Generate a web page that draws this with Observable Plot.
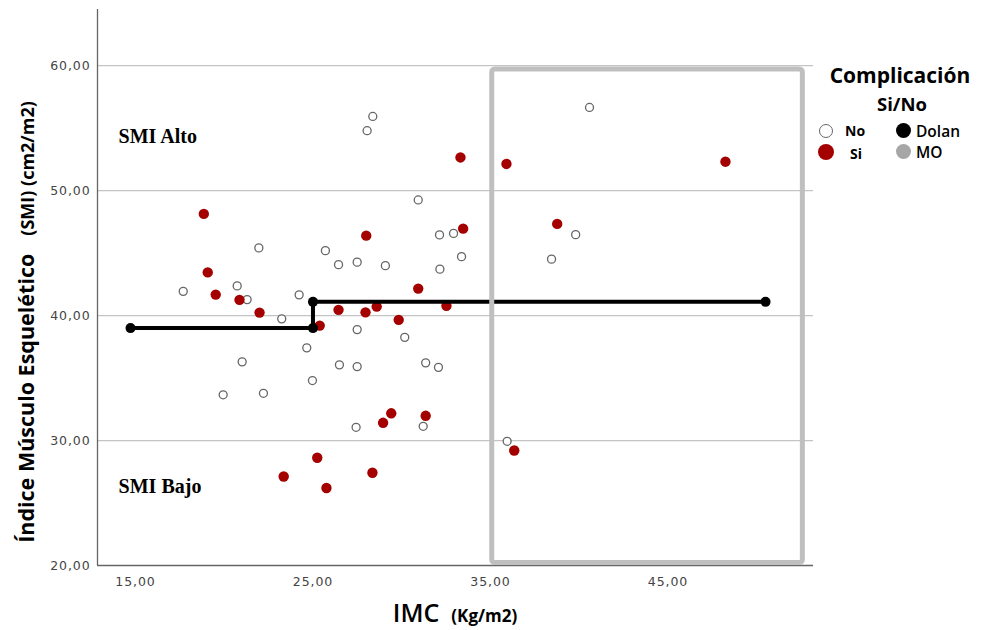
<!DOCTYPE html>
<html><head><meta charset="utf-8">
<script src="https://cdn.jsdelivr.net/npm/d3@7"></script>
<script src="https://cdn.jsdelivr.net/npm/@observablehq/plot@0.6"></script>
<style>
body{margin:0;background:#fff;}
#wrap{position:relative;width:986px;height:630px;font-family:"Open Sans",sans-serif;color:#000;}
#wrap svg{position:absolute;left:0;top:0;}
#wrap svg g[aria-label$="tick label"] text{letter-spacing:0.9px;}
.ylab{position:absolute;left:25px;top:322px;transform:translate(-50%,-50%) rotate(-90deg);white-space:nowrap;font-weight:bold;}
.xlab{position:absolute;left:455px;top:612px;transform:translate(-50%,-50%);white-space:nowrap;}
.leg{position:absolute;font-family:"Open Sans",sans-serif;font-weight:bold;white-space:nowrap;}
.sw{position:absolute;border-radius:50%;box-sizing:border-box;}
</style></head><body><div id="wrap"></div>
<script>
// Data
const noX = [28.37,28.05,40.58,30.93,21.95,25.70,26.44,27.49,29.08,32.13,32.92,33.37,32.15,39.80,38.44,17.69,20.73,21.29,24.22,23.24,27.49,30.17,24.65,21.01,26.49,27.49,31.35,32.07,24.97,19.94,22.21,27.43,31.21,35.94];
const noY = [55.94,54.80,56.66,49.26,45.42,45.20,44.08,44.28,44.00,46.46,46.58,44.72,43.72,46.48,44.52,41.94,42.38,41.28,41.66,39.74,38.88,38.26,37.42,36.30,36.06,35.92,36.22,35.86,34.80,33.66,33.78,31.06,31.14,29.94];
const siX = [33.31,35.90,48.24,18.85,28.00,33.46,38.76,19.07,19.52,20.86,21.99,30.93,26.44,27.96,28.59,32.52,29.83,25.38,29.41,31.35,28.95,36.34,25.24,23.35,28.35,25.76];
const siY = [52.66,52.14,52.32,48.14,46.40,46.96,47.34,43.46,41.68,41.26,40.24,42.16,40.46,40.26,40.72,40.78,39.66,39.20,32.18,31.98,31.42,29.20,28.62,27.12,27.42,26.20];
const dolanX = [14.72, 25, 25, 50.5];
const dolanY = [39, 39, 41.1, 41.1];
const moBoxX = [35.1, 52.6];
const moBoxY = [20.2, 59.7];
const xTicks = [15, 25, 35, 45];
const yTicks = [20, 30, 40, 50, 60];
const gridY = [30, 40, 50, 60];
const regionLabels = ["SMI Alto", "SMI Bajo"];
const regionX = [14.05, 14.05];
const regionY = [54.3, 26.3];
const xDomain = [12.86, 53.2];
const yDomain = [20, 64.5];

const noData = noX.map((x, i) => ({x, y: noY[i]}));
const siData = siX.map((x, i) => ({x, y: siY[i]}));
const dolan = dolanX.map((x, i) => ({x, y: dolanY[i]}));
const box = [{x1: moBoxX[0], x2: moBoxX[1], y1: moBoxY[0], y2: moBoxY[1]}];
const regions = regionLabels.map((t, i) => ({t, x: regionX[i], y: regionY[i]}));
const fmt = d => d.toFixed(2).replace(".", ",");

const chart = Plot.plot({
  width: 986, height: 630,
  marginLeft: 97, marginRight: 173, marginTop: 9, marginBottom: 65,
  x: {domain: xDomain},
  y: {domain: yDomain},
  style: {background: "transparent", fontFamily: "DejaVu Sans, sans-serif"},
  marks: [
    Plot.ruleY(gridY, {stroke: "#c4c4c4", strokeWidth: 1.2}),
    Plot.ruleX([xDomain[0]], {stroke: "#666", strokeWidth: 1.3}),
    Plot.ruleY([yDomain[0]], {stroke: "#666", strokeWidth: 1.3}),
    Plot.axisX(xTicks, {tickSize: 0, tickPadding: 12, tickFormat: fmt, fontSize: 12.5, color: "#444", label: null}),
    Plot.axisY(yTicks, {tickSize: 0, tickPadding: 7, tickFormat: fmt, fontSize: 12.5, color: "#444", label: null}),
    Plot.text(regions, {x: "x", y: "y", text: "t", textAnchor: "start", fontFamily: "Liberation Serif, Times New Roman, serif", fontWeight: "bold", fontSize: 20, fill: "#000"}),
    Plot.dot(noData, {x: "x", y: "y", r: 4, fill: "#fff", stroke: "#666", strokeWidth: 1.3}),
    Plot.dot(siData, {x: "x", y: "y", r: 5.2, fill: "#a40000", stroke: "none"}),
    Plot.line(dolan, {x: "x", y: "y", stroke: "#000", strokeWidth: 4}),
    Plot.dot(dolan, {x: "x", y: "y", r: 5, fill: "#000"}),
    Plot.rect(box, {x1: "x1", x2: "x2", y1: "y1", y2: "y2", fill: "none", stroke: "#bfbfbf", strokeWidth: 5, rx: 3})
  ]
});

const wrap = document.getElementById("wrap");
wrap.appendChild(chart);
wrap.insertAdjacentHTML("beforeend", `
<div class="ylab"><span style="font-size:21.5px">Índice Músculo Esquelético</span><span style="display:inline-block;width:18px"></span><span style="font-size:18px">(SMI) (cm2/m2)</span></div>
<div class="xlab"><span style="font-size:25px;font-weight:600">IMC</span><span style="display:inline-block;width:12px"></span><span style="font-size:17px;font-weight:bold">(Kg/m2)</span></div>
<div class="leg" style="left:900px;top:75px;transform:translate(-50%,-50%);font-size:21px">Complicación</div>
<div class="leg" style="left:902px;top:103px;transform:translate(-50%,-50%);font-size:18.5px">Si/No</div>
<div class="sw" style="left:819px;top:124px;width:14px;height:14px;border:1.3px solid #666;background:#fff"></div>
<div class="leg" style="left:845px;top:121px;font-size:14px">No</div>
<div class="sw" style="left:818px;top:144px;width:16px;height:16px;background:#a40000"></div>
<div class="leg" style="left:850px;top:144px;font-size:14px">Si</div>
<div class="sw" style="left:896px;top:123px;width:15px;height:15px;background:#000"></div>
<div class="leg" style="left:916px;top:120px;font-size:15.5px;font-weight:600">Dolan</div>
<div class="sw" style="left:896px;top:144px;width:15px;height:15px;background:#a6a6a6"></div>
<div class="leg" style="left:916px;top:141px;font-size:15.5px;font-weight:600">MO</div>
`);
</script></body></html>
